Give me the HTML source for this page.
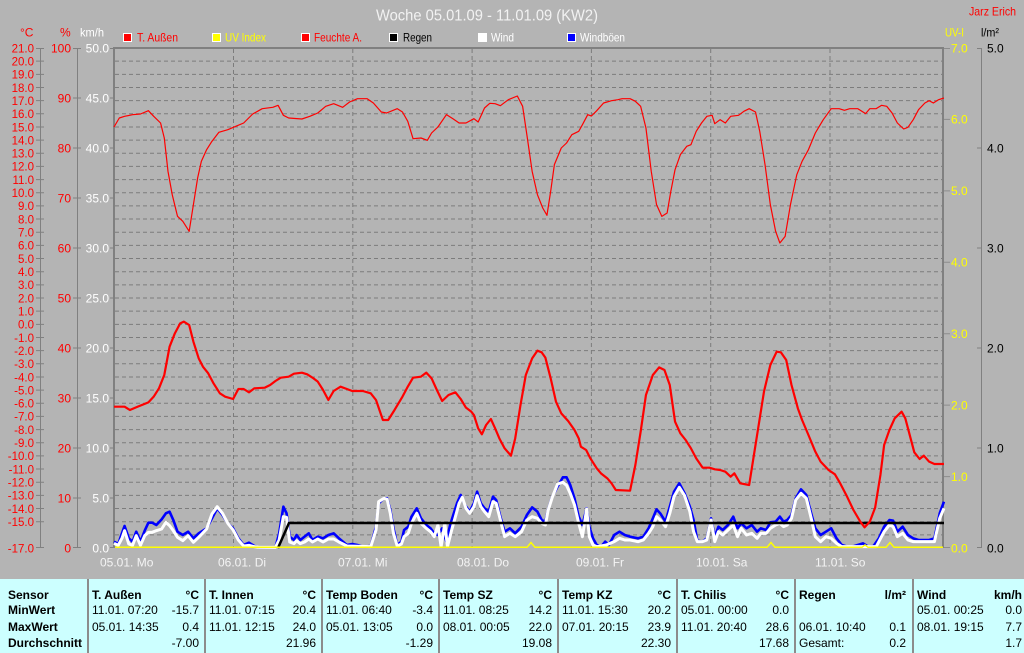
<!DOCTYPE html>
<html><head><meta charset="utf-8"><style>
html,body{margin:0;padding:0;background:#b4b4b4;}
svg{display:block;font-family:"Liberation Sans",Arial,sans-serif;}
</style></head><body>
<svg width="1024" height="653" viewBox="0 0 1024 653" xmlns="http://www.w3.org/2000/svg">
<rect x="0" y="0" width="1024" height="653" fill="#b4b4b4"/>

<!-- title -->
<text x="376" y="20.5" font-size="16" fill="#f2f2f2" textLength="222" lengthAdjust="spacingAndGlyphs">Woche 05.01.09 - 11.01.09 (KW2)</text>
<text x="969" y="15.5" font-size="12" fill="#ff0000" textLength="47" lengthAdjust="spacingAndGlyphs">Jarz Erich</text>

<!-- axis headers -->
<text x="20" y="36.5" font-size="12" fill="#ff0000">°C</text>
<text x="60" y="36.5" font-size="12" fill="#ff0000">%</text>
<text x="80" y="36.5" font-size="12" fill="#ffffff" textLength="24" lengthAdjust="spacingAndGlyphs">km/h</text>
<text x="945" y="36.5" font-size="12" fill="#ffff00" textLength="19" lengthAdjust="spacingAndGlyphs">UV-I</text>
<text x="981" y="36.5" font-size="12" fill="#000000" textLength="18" lengthAdjust="spacingAndGlyphs">l/m²</text>

<!-- legend -->
<g font-size="12">
<rect x="123.5" y="33.5" width="8" height="8" fill="#ff0000" stroke="#ffffff" stroke-width="1"/>
<text x="137" y="41.7" fill="#ff0000" textLength="41" lengthAdjust="spacingAndGlyphs">T. Außen</text>
<rect x="212.5" y="33.5" width="8" height="8" fill="#ffff00" stroke="#ffffff" stroke-width="1"/>
<text x="225" y="41.7" fill="#ffff00" textLength="41" lengthAdjust="spacingAndGlyphs">UV Index</text>
<rect x="301.5" y="33.5" width="8" height="8" fill="#ff0000" stroke="#ffffff" stroke-width="1"/>
<text x="314" y="41.7" fill="#ff0000" textLength="48" lengthAdjust="spacingAndGlyphs">Feuchte A.</text>
<rect x="389.5" y="33.5" width="8" height="8" fill="#000000" stroke="#ffffff" stroke-width="1"/>
<text x="403" y="41.7" fill="#000000" textLength="29" lengthAdjust="spacingAndGlyphs">Regen</text>
<rect x="478.5" y="33.5" width="8" height="8" fill="#ffffff" stroke="#ffffff" stroke-width="1"/>
<text x="491" y="41.7" fill="#ffffff" textLength="23" lengthAdjust="spacingAndGlyphs">Wind</text>
<rect x="567.5" y="33.5" width="8" height="8" fill="#0000ff" stroke="#ffffff" stroke-width="1"/>
<text x="580" y="41.7" fill="#ffffff" textLength="45" lengthAdjust="spacingAndGlyphs">Windböen</text>
</g>

<!-- grid -->
<path stroke="#7c7c7c" stroke-width="1" stroke-dasharray="4 3" fill="none" d="
M115 61.16H943 M115 74.32H943 M115 87.47H943 M115 100.63H943 M115 113.79H943 M115 126.95H943 M115 140.11H943 M115 153.26H943 M115 166.42H943 M115 179.58H943
M115 192.74H943 M115 205.9H943 M115 219.05H943 M115 232.21H943 M115 245.37H943 M115 258.53H943 M115 271.69H943 M115 284.84H943 M115 298H943 M115 311.16H943
M115 324.32H943 M115 337.47H943 M115 350.63H943 M115 363.79H943 M115 376.95H943 M115 390.11H943 M115 403.26H943 M115 416.42H943 M115 429.58H943 M115 442.74H943
M115 455.9H943 M115 469.05H943 M115 482.21H943 M115 495.37H943 M115 508.53H943 M115 521.69H943 M115 534.84H943
M233.5 49V548 M352.8 49V548 M472.1 49V548 M591.4 49V548 M710.7 49V548 M830 49V548"/>

<!-- plot border -->
<path stroke="#808080" stroke-width="2" fill="none" d="M114 548V48H943V548"/>
<path stroke="#8c8c8c" stroke-width="1" fill="none" d="M944 48.5H950 M944 119.4H950 M944 190.9H950 M944 262.3H950 M944 333.7H950 M944 405.1H950 M944 476.6H950 M944 547.5H950"/>

<!-- left axes -->
<path stroke="#808080" stroke-width="1" fill="none" d="M40.5 48V548 M77.5 48V548
M36 48.5H44 M36 61.16H44 M36 74.32H44 M36 87.47H44 M36 100.63H44 M36 113.79H44 M36 126.95H44 M36 140.11H44 M36 153.26H44 M36 166.42H44 M36 179.58H44
M36 192.74H44 M36 205.9H44 M36 219.05H44 M36 232.21H44 M36 245.37H44 M36 258.53H44 M36 271.69H44 M36 284.84H44 M36 298H44 M36 311.16H44
M36 324.32H44 M36 337.47H44 M36 350.63H44 M36 363.79H44 M36 376.95H44 M36 390.11H44 M36 403.26H44 M36 416.42H44 M36 429.58H44 M36 442.74H44
M36 455.9H44 M36 469.05H44 M36 482.21H44 M36 495.37H44 M36 508.53H44 M36 521.69H44 M36 547.5H44
M73 48.5H81 M73 98H81 M73 148H81 M73 198H81 M73 248H81 M73 298H81 M73 348H81 M73 398H81 M73 448H81 M73 498H81 M73 547.5H81
M110 48.5H114 M110 98H114 M110 148H114 M110 198H114 M110 248H114 M110 298H114 M110 348H114 M110 398H114 M110 448H114 M110 498H114 M110 547.5H114
M981.5 48V548 M977 48.5H982 M977 148H982 M977 248H982 M977 348H982 M977 448H982 M977 547.5H982"/>

<g font-size="11.5" fill="#ff0000" text-anchor="end">
<text x="34" y="52.3">21.0</text><text x="34" y="65.5">20.0</text><text x="34" y="78.6">19.0</text><text x="34" y="91.8">18.0</text><text x="34" y="104.9">17.0</text>
<text x="34" y="118.1">16.0</text><text x="34" y="131.3">15.0</text><text x="34" y="144.4">14.0</text><text x="34" y="157.6">13.0</text><text x="34" y="170.7">12.0</text>
<text x="34" y="183.9">11.0</text><text x="34" y="197">10.0</text><text x="34" y="210.2">9.0</text><text x="34" y="223.4">8.0</text><text x="34" y="236.5">7.0</text>
<text x="34" y="249.7">6.0</text><text x="34" y="262.8">5.0</text><text x="34" y="276">4.0</text><text x="34" y="289.1">3.0</text><text x="34" y="302.3">2.0</text>
<text x="34" y="315.5">1.0</text><text x="34" y="328.6">0.0</text><text x="34" y="341.8">-1.0</text><text x="34" y="354.9">-2.0</text><text x="34" y="368.1">-3.0</text>
<text x="34" y="381.3">-4.0</text><text x="34" y="394.4">-5.0</text><text x="34" y="407.6">-6.0</text><text x="34" y="420.7">-7.0</text><text x="34" y="433.9">-8.0</text>
<text x="34" y="447">-9.0</text><text x="34" y="460.2">-10.0</text><text x="34" y="473.4">-11.0</text><text x="34" y="486.5">-12.0</text><text x="34" y="499.7">-13.0</text>
<text x="34" y="512.8">-14.0</text><text x="34" y="526">-15.0</text><text x="34" y="552.3">-17.0</text>
</g>
<g font-size="12" fill="#ff0000" text-anchor="end">
<text x="71" y="52.3">100</text><text x="71" y="102.3">90</text><text x="71" y="152.3">80</text><text x="71" y="202.3">70</text><text x="71" y="252.3">60</text>
<text x="71" y="302.3">50</text><text x="71" y="352.3">40</text><text x="71" y="402.3">30</text><text x="71" y="452.3">20</text><text x="71" y="502.3">10</text><text x="71" y="552.3">0</text>
</g>
<g font-size="12" fill="#ffffff" text-anchor="end">
<text x="109" y="52.3">50.0</text><text x="109" y="102.3">45.0</text><text x="109" y="152.3">40.0</text><text x="109" y="202.3">35.0</text><text x="109" y="252.3">30.0</text>
<text x="109" y="302.3">25.0</text><text x="109" y="352.3">20.0</text><text x="109" y="402.3">15.0</text><text x="109" y="452.3">10.0</text><text x="109" y="502.3">5.0</text><text x="109" y="552.3">0.0</text>
</g>
<g font-size="12" fill="#ffff00">
<text x="951" y="52.3">7.0</text><text x="951" y="123.7">6.0</text><text x="951" y="195.2">5.0</text><text x="951" y="266.6">4.0</text>
<text x="951" y="338">3.0</text><text x="951" y="409.4">2.0</text><text x="951" y="480.9">1.0</text><text x="951" y="552.3">0.0</text>
</g>
<g font-size="12" fill="#000000">
<text x="987" y="52.3">5.0</text><text x="987" y="152.3">4.0</text><text x="987" y="252.3">3.0</text>
<text x="987" y="352.3">2.0</text><text x="987" y="452.3">1.0</text><text x="987" y="552.3">0.0</text>
</g>

<!-- x labels -->
<g font-size="12" fill="#f4f4f4">
<text x="100" y="566.7">05.01.  Mo</text>
<text x="218" y="566.7">06.01.  Di</text>
<text x="338" y="566.7">07.01.  Mi</text>
<text x="457" y="566.7">08.01.  Do</text>
<text x="576" y="566.7">09.01.  Fr</text>
<text x="696" y="566.7">10.01.  Sa</text>
<text x="815" y="566.7">11.01.  So</text>
</g>

<!-- humidity (thin red) -->
<g transform="translate(114,88) scale(0.5293,0.33333)">
<polyline fill="none" stroke="#ff0000" stroke-width="1.2" vector-effect="non-scaling-stroke" stroke-linejoin="round" points="0,117 10,90 20,85 35,80 50,78 65,68 75,85 88,105 95,150 102,250 110,320 120,385 130,400 142,430 150,350 158,270 165,220 175,185 185,160 198,133 215,125 230,115 245,105 262,78 280,62 300,58 310,52 320,82 330,90 355,93 370,85 385,75 400,55 415,47 432,58 445,42 460,32 478,32 490,45 505,72 515,75 535,62 545,72 555,100 565,152 580,150 592,157 600,135 612,117 628,80 640,92 652,105 665,105 680,92 688,102 700,60 710,46 720,47 730,53 745,35 762,24 772,55 780,140 790,250 800,320 810,360 818,382 825,310 832,230 845,180 855,165 865,140 878,130 885,110 895,80 902,84 912,68 925,45 940,38 952,35 960,32 975,32 985,40 995,55 1005,120 1015,250 1025,350 1035,385 1045,375 1052,310 1060,245 1070,200 1082,175 1090,170 1100,130 1110,105 1120,85 1130,82 1135,107 1145,95 1155,105 1165,85 1180,82 1190,70 1200,62 1212,72 1220,130 1230,230 1240,350 1250,430 1258,465 1268,445 1278,350 1290,260 1300,220 1312,185 1325,135 1340,95 1355,62 1370,62 1380,67 1390,62 1405,62 1420,77 1428,62 1440,62 1450,52 1460,55 1470,75 1480,105 1492,123 1500,118 1510,95 1520,65 1532,45 1540,38 1548,45 1558,35 1568,30"/>
</g>

<!-- wind -->
<g transform="translate(114,470) scale(0.5293,0.33333)">
<polyline fill="none" stroke="#0000ff" stroke-width="2.6" vector-effect="non-scaling-stroke" stroke-linejoin="round" points="0,215 8,222 15,190 20,168 28,205 35,215 42,185 50,215 58,182 65,158 72,158 80,165 90,148 98,130 105,125 112,150 120,185 130,195 140,185 150,205 160,190 175,175 185,145 195,115 205,135 215,160 225,175 235,205 245,225 255,218 265,228 275,233 305,232 312,190 320,110 326,130 332,200 340,210 345,195 352,210 360,200 368,190 375,210 385,200 395,205 405,195 415,190 425,205 440,225 450,222 460,225 470,230 485,228 495,170 500,100 510,85 516,85 522,120 528,175 535,225 543,215 548,180 556,170 562,140 572,115 580,145 590,165 598,175 605,190 612,195 620,175 628,215 635,165 640,140 648,100 655,75 663,105 672,125 680,100 686,65 693,100 700,115 708,125 716,80 722,90 730,140 738,185 748,175 758,190 770,170 780,135 790,112 800,125 808,150 815,155 820,120 828,80 838,50 848,22 855,22 862,45 870,85 878,140 885,165 893,115 898,170 905,205 912,225 920,230 928,215 935,225 945,195 955,185 965,195 975,200 990,205 1000,200 1010,175 1018,145 1025,118 1032,130 1042,155 1050,110 1058,65 1068,40 1078,70 1088,110 1095,150 1102,212 1112,215 1120,205 1128,145 1135,200 1142,170 1150,180 1160,165 1170,140 1178,175 1185,160 1195,175 1205,165 1215,185 1222,175 1232,180 1240,157 1250,155 1258,140 1265,155 1272,150 1280,135 1288,85 1298,58 1308,75 1318,135 1325,175 1335,195 1345,185 1355,175 1365,205 1375,225 1385,230 1395,230 1405,225 1415,220 1425,230 1435,228 1445,205 1455,170 1465,150 1472,152 1480,185 1490,170 1500,195 1510,205 1520,210 1530,210 1540,210 1550,205 1560,130 1568,95"/>
<polyline fill="none" stroke="#ffffff" stroke-width="3" vector-effect="non-scaling-stroke" stroke-linejoin="round" points="0,220 8,226 15,205 20,182 28,222 35,226 42,197 50,226 58,197 65,187 72,187 80,182 90,177 98,157 105,167 112,182 120,202 130,212 140,197 150,217 160,202 175,177 185,132 195,110 205,130 215,160 225,180 235,210 245,228 255,226 265,230 275,232 305,232 312,210 320,140 326,142 332,216 340,221 345,212 352,221 360,216 368,207 375,216 385,207 395,216 405,207 415,207 425,216 440,228 485,230 495,180 500,95 510,85 516,88 522,130 528,190 535,228 543,222 548,200 556,190 562,160 572,130 580,160 590,175 598,185 605,200 612,165 618,230 625,160 630,230 638,180 645,140 652,100 658,82 665,115 672,130 680,110 686,77 693,110 700,125 708,140 716,95 722,100 730,150 738,200 748,190 758,200 770,185 780,150 790,140 800,145 808,160 815,165 820,122 828,82 838,42 848,37 855,46 862,70 870,105 878,160 885,200 893,117 898,200 905,225 912,230 930,225 945,215 955,205 965,210 975,210 990,215 1000,210 1010,190 1018,170 1025,140 1032,150 1042,170 1050,130 1058,80 1068,52 1078,77 1088,125 1095,185 1102,215 1112,215 1120,210 1128,150 1135,215 1142,185 1150,195 1160,180 1170,165 1178,200 1185,175 1195,195 1205,190 1215,205 1222,190 1232,190 1240,175 1250,165 1258,160 1265,170 1272,165 1280,145 1288,90 1298,70 1308,85 1318,150 1325,200 1335,215 1345,200 1355,205 1365,220 1375,230 1440,230 1455,185 1465,165 1472,170 1480,200 1490,190 1500,210 1510,215 1550,215 1560,145 1568,115"/>
</g>

<!-- rain -->
<polyline fill="none" stroke="#000000" stroke-width="2.5" points="278,548 289,523 944,523"/>

<!-- temperature (thick red) -->
<g transform="translate(114,315) scale(0.5293,0.33333)">
<polyline fill="none" stroke="#ff0000" stroke-width="2.2" vector-effect="non-scaling-stroke" stroke-linejoin="round" points="0,275 20,275 30,285 45,275 65,262 75,245 85,220 95,180 105,95 115,55 125,25 132,20 142,30 150,80 160,130 168,155 178,175 188,205 200,235 210,245 225,252 235,222 245,222 255,232 265,220 285,218 295,210 305,198 315,188 330,185 340,176 355,173 365,178 375,188 385,200 395,225 405,255 415,228 428,215 440,222 450,228 470,228 485,235 495,255 508,315 518,315 530,285 545,245 555,215 565,188 580,185 590,173 600,190 610,225 620,258 632,240 645,232 655,252 665,278 675,290 680,300 688,340 695,358 703,330 712,312 720,340 728,370 738,400 750,422 758,370 768,270 778,180 790,130 800,107 808,112 815,128 825,190 835,260 845,295 858,318 870,345 878,370 882,395 892,405 900,430 912,460 920,475 932,490 940,505 948,525 975,527 985,450 995,350 1005,240 1018,180 1030,157 1040,165 1050,210 1060,320 1070,355 1080,375 1090,400 1100,430 1112,458 1125,458 1135,463 1145,465 1155,470 1165,485 1172,475 1183,505 1200,510 1208,430 1218,330 1228,230 1240,150 1252,110 1260,112 1270,135 1280,210 1292,280 1300,315 1312,360 1325,410 1335,440 1350,465 1362,478 1372,505 1385,545 1397,585 1410,620 1418,637 1428,620 1438,578 1448,480 1455,390 1465,345 1475,310 1488,290 1495,310 1505,370 1512,412 1522,432 1530,422 1540,440 1550,447 1568,447"/>
</g>

<!-- UV index -->
<polyline fill="none" stroke="#ffff00" stroke-width="1.5" points="115,547.3 527,547.3 531,542.5 535,547.3 767,547.3 771,542.5 775,547.3 862,547.3 865,545 868,547.3 886,547.3 890,542.5 894,547.3 943,547.3"/>

<!-- table -->
<rect x="0" y="579" width="1024" height="74" fill="#ccffff"/>
<path stroke="#8c8c8c" stroke-width="2" fill="none" d="M88 579V653 M205 579V653 M322 579V653 M439 579V653 M558 579V653 M677 579V653 M795 579V653 M913 579V653"/>
<g font-size="12" fill="#000000">
<g font-weight="bold">
<text x="8" y="599">Sensor</text><text x="8" y="614">MinWert</text><text x="8" y="631">MaxWert</text><text x="8" y="647">Durchschnitt</text>
<text x="92" y="599">T. Außen</text><text x="209" y="599">T. Innen</text><text x="326" y="599">Temp Boden</text><text x="443" y="599">Temp SZ</text>
<text x="562" y="599">Temp KZ</text><text x="681" y="599">T. Chilis</text><text x="799" y="599">Regen</text><text x="917" y="599">Wind</text>
</g>
<g font-weight="bold" text-anchor="end">
<text x="199" y="599">°C</text><text x="316" y="599">°C</text><text x="433" y="599">°C</text><text x="552" y="599">°C</text>
<text x="671" y="599">°C</text><text x="789" y="599">°C</text><text x="906" y="599">l/m²</text><text x="1022" y="599">km/h</text>
</g>
<text x="92" y="614">11.01.  07:20</text><text x="92" y="631">05.01.  14:35</text>
<text x="209" y="614">11.01.  07:15</text><text x="209" y="631">11.01.  12:15</text>
<text x="326" y="614">11.01.  06:40</text><text x="326" y="631">05.01.  13:05</text>
<text x="443" y="614">11.01.  08:25</text><text x="443" y="631">08.01.  00:05</text>
<text x="562" y="614">11.01.  15:30</text><text x="562" y="631">07.01.  20:15</text>
<text x="681" y="614">05.01.  00:00</text><text x="681" y="631">11.01.  20:40</text>
<text x="799" y="631">06.01.  10:40</text><text x="799" y="647">Gesamt:</text>
<text x="917" y="614">05.01.  00:25</text><text x="917" y="631">08.01.  19:15</text>
<g text-anchor="end">
<text x="199" y="614">-15.7</text><text x="199" y="631">0.4</text><text x="199" y="647">-7.00</text>
<text x="316" y="614">20.4</text><text x="316" y="631">24.0</text><text x="316" y="647">21.96</text>
<text x="433" y="614">-3.4</text><text x="433" y="631">0.0</text><text x="433" y="647">-1.29</text>
<text x="552" y="614">14.2</text><text x="552" y="631">22.0</text><text x="552" y="647">19.08</text>
<text x="671" y="614">20.2</text><text x="671" y="631">23.9</text><text x="671" y="647">22.30</text>
<text x="789" y="614">0.0</text><text x="789" y="631">28.6</text><text x="789" y="647">17.68</text>
<text x="906" y="631">0.1</text><text x="906" y="647">0.2</text>
<text x="1022" y="614">0.0</text><text x="1022" y="631">7.7</text><text x="1022" y="647">1.7</text>
</g>
</g>
</svg>
</body></html>
